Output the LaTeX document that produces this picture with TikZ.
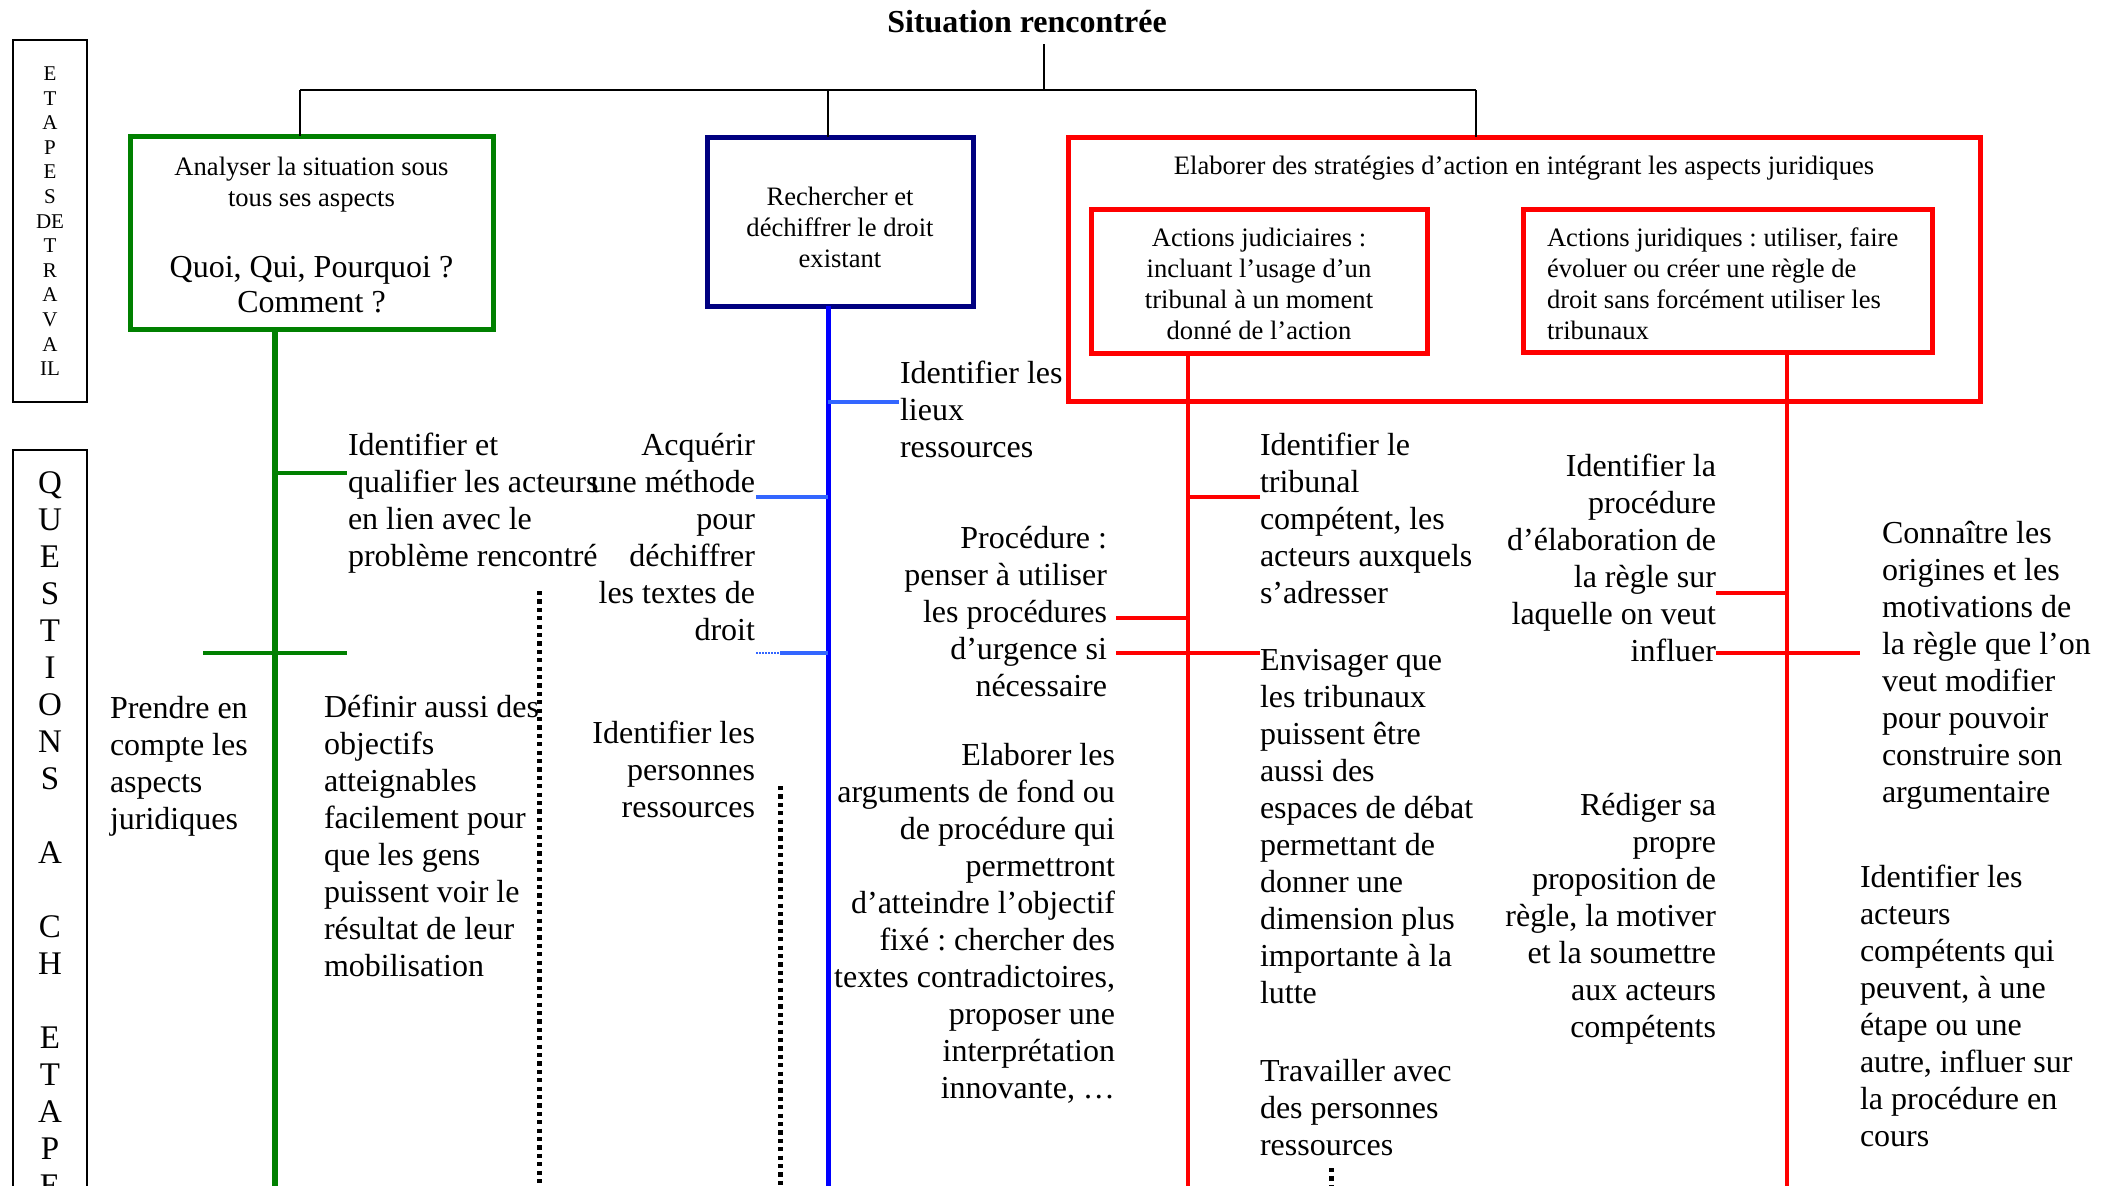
\documentclass[tikz,border=0pt]{standalone}
\usepackage{fontspec}
\setmainfont{Liberation Serif}
\frenchspacing
\definecolor{grn}{RGB}{0,128,0}
\definecolor{navy}{RGB}{0,0,128}
\definecolor{blu}{RGB}{0,0,255}
\definecolor{lblu}{RGB}{51,102,255}
\definecolor{rd}{RGB}{255,0,0}
\begin{document}
\begin{tikzpicture}[x=1pt,y=-1pt,
  every node/.style={inner sep=0pt, outer sep=0pt},
  body/.style={font=\fontsize{32}{37}\selectfont},
  boxtxt/.style={font=\fontsize{26.6}{31}\selectfont},
  lt/.style={body, align=left, anchor=north west},
  rt/.style={body, align=right, anchor=north east},
  conn/.style={draw=black, line width=2pt},
  gline/.style={draw=grn, line width=5.5pt},
  bline/.style={draw=blu, line width=5pt},
  lbline/.style={draw=lblu, line width=3.5pt},
  rline/.style={draw=rd, line width=4.8pt},
  dots/.style={draw=black, line width=5pt, dash pattern=on 4.2pt off 4.2pt},
]
\useasboundingbox (0,0) rectangle (2107,1186);
\clip (0,0) rectangle (2107,1186);

% left side boxes
\node[draw, line width=2pt, minimum width=74pt, minimum height=362pt] (etapes) at (50,221) {};
\node[font=\fontsize{21}{24.6}\selectfont, align=center, anchor=north] (etapestxt) at (50,63.3)
  {\strut E\\T\\A\\P\\E\\S\\DE\\T\\R\\A\\V\\A\\IL};
\node[draw, line width=2pt, minimum width=74pt, minimum height=760pt] (quest) at (50,830) {};
\node[font=\fontsize{33}{37}\selectfont, align=center, anchor=north] (questtxt) at (50,467.1)
  {\strut Q\\U\\E\\S\\T\\I\\O\\N\\S\\~\\A\\~\\C\\H\\~\\E\\T\\A\\P\\E};

% title
\node[font=\fontsize{32}{37}\selectfont\bfseries, anchor=base] (title) at (1027,32) {Situation rencontrée};

% main boxes
\node[draw=grn, line width=5pt, minimum width=363pt, minimum height=193pt] (gbox) at (311.5,232.5) {};
\node[boxtxt, align=center, anchor=north] (gtxt1) at (311.5,153.3) {\strut Analyser la situation sous\\tous ses aspects};
\node[font=\fontsize{32}{35}\selectfont, align=center, anchor=north] (gtxt2) at (311.5,252.5) {\strut Quoi, Qui, Pourquoi ?\\Comment ?};

\node[draw=navy, line width=5pt, minimum width=266pt, minimum height=169pt] (bbox) at (840,221.5) {};
\node[boxtxt, align=center, anchor=north] (btxt) at (840,183.3) {\strut Rechercher et\\déchiffrer le droit\\existant};

\node[draw=rd, line width=5pt, minimum width=912pt, minimum height=264pt] (rbox) at (1524,269) {};
\node[boxtxt, anchor=north] (rtxt) at (1524,152.3) {\strut Elaborer des stratégies d’action en intégrant les aspects juridiques};

\node[draw=rd, line width=5pt, minimum width=336pt, minimum height=144pt] (rj1) at (1259,281) {};
\node[boxtxt, align=center, anchor=north] (rj1txt) at (1259,224.3) {\strut Actions judiciaires :\\incluant l’usage d’un\\tribunal à un moment\\donné de l’action};

\node[draw=rd, line width=5pt, minimum width=409pt, minimum height=143pt] (rj2) at (1727.5,280.5) {};
\node[boxtxt, align=left, anchor=north west] (rj2txt) at (1547,224.3) {\strut Actions juridiques : utiliser, faire\\évoluer ou créer une règle de\\droit sans forcément utiliser les\\tribunaux};

% top connectors
\coordinate (ttop) at (1044,44);
\coordinate (tbar) at (1044,90);
\coordinate (barL) at (300,90);
\coordinate (barM) at (828,90);
\coordinate (barR) at (1476,90);
\draw[conn] (ttop) -- (tbar);
\draw[conn] (barL) -- (barR);
\draw[conn] (barL) -- (gbox.north -| barL);
\draw[conn] (barM) -- (bbox.north -| barM);
\draw[conn] (barR) -- (rbox.north -| barR);

% verticals
\coordinate (gx) at (275,1190);
\coordinate (bx) at (828,1190);
\coordinate (r1x) at (1188,1190);
\coordinate (r2x) at (1787,1190);
\draw[gline] (gbox.south -| gx) -- (gx);
\draw[bline] (bbox.south -| bx) -- (bx);
\draw[rline] (rj1.south -| r1x) -- (r1x);
\draw[rline] (rj2.south -| r2x) -- (r2x);

% lower texts
\node[lt] (tA) at (348,429.1) {\strut Identifier et\\qualifier les acteurs\\en lien avec le\\problème rencontré};
\node[rt] (tB) at (755,429.1) {\strut Acquérir\\une méthode\\pour\\déchiffrer\\les textes de\\droit};
\node[lt] (tC) at (900,357.1) {\strut Identifier les\\lieux\\ressources};
\node[rt] (tD) at (1107,522.1) {\strut Procédure :\\penser à utiliser\\les procédures\\d’urgence si\\nécessaire};
\node[rt] (tE) at (1115,739.1) {\strut Elaborer les\\arguments de fond ou\\de procédure qui\\permettront\\d’atteindre l’objectif\\fixé : chercher des\\textes contradictoires,\\proposer une\\interprétation\\innovante, …};
\node[lt] (tF) at (1260,429.1) {\strut Identifier le\\tribunal\\compétent, les\\acteurs auxquels\\s’adresser};
\node[lt] (tG) at (1260,644.1) {\strut Envisager que\\les tribunaux\\puissent être\\aussi des\\espaces de débat\\permettant de\\donner une\\dimension plus\\importante à la\\lutte};
\node[lt] (tH) at (1260,1055.1) {\strut Travailler avec\\des personnes\\ressources};
\node[rt] (tI) at (1716,450.1) {\strut Identifier la\\procédure\\d’élaboration de\\la règle sur\\laquelle on veut\\influer};
\node[rt] (tJ) at (1716,789.1) {\strut Rédiger sa\\propre\\proposition de\\règle, la motiver\\et la soumettre\\aux acteurs\\compétents};
\node[lt] (tK) at (1882,517.1) {\strut Connaître les\\origines et les\\motivations de\\la règle que l’on\\veut modifier\\pour pouvoir\\construire son\\argumentaire};
\node[lt] (tL) at (1860,861.1) {\strut Identifier les\\acteurs\\compétents qui\\peuvent, à une\\étape ou une\\autre, influer sur\\la procédure en\\cours};
\node[lt] (tM) at (110,692.1) {\strut Prendre en\\compte les\\aspects\\juridiques};
\node[lt] (tN) at (324,691.1) {\strut Définir aussi des\\objectifs\\atteignables\\facilement pour\\que les gens\\puissent voir le\\résultat de leur\\mobilisation};
\node[rt] (tO) at (755,717.1) {\strut Identifier les\\personnes\\ressources};

% branches green
\coordinate (g1a) at (275,473); \coordinate (g1b) at (347,473);
\coordinate (g2a) at (203,653); \coordinate (g2b) at (347,653);
\draw[gline, line width=4.5pt] (g1a) -- (g1b);
\draw[gline, line width=4.5pt] (g2a) -- (g2b);
% branches blue
\coordinate (b1a) at (828,402); \coordinate (b1b) at (899,402);
\coordinate (b2a) at (756,497); \coordinate (b2b) at (828,497);
\coordinate (b3a) at (756,653); \coordinate (b3m) at (780,653); \coordinate (b3b) at (828,653);
\draw[lbline] (b1a) -- (b1b);
\draw[lbline] (b2a) -- (b2b);
\draw[lbline] (b3m) -- (b3b);
\draw[draw=lblu, line width=1.5pt, dash pattern=on 1.5pt off 1.5pt] (b3a) -- (b3m);
% branches red
\coordinate (r1a) at (1188,497); \coordinate (r1b) at (1260,497);
\coordinate (r2a) at (1116,618); \coordinate (r2b) at (1188,618);
\coordinate (r3a) at (1116,653); \coordinate (r3b) at (1260,653);
\coordinate (r4a) at (1716,593); \coordinate (r4b) at (1787,593);
\coordinate (r5a) at (1716,653); \coordinate (r5b) at (1860,653);
\draw[rline] (r1a) -- (r1b);
\draw[rline] (r2a) -- (r2b);
\draw[rline] (r3a) -- (r3b);
\draw[rline] (r4a) -- (r4b);
\draw[rline] (r5a) -- (r5b);

% dotted lines
\coordinate (d1a) at (539,591); \coordinate (d1b) at (539,1190);
\coordinate (d2a) at (780,786); \coordinate (d2b) at (780,1190);
\coordinate (d3a) at (1331,1168); \coordinate (d3b) at (1331,1190);
\draw[dots] (d1a) -- (d1b);
\draw[dots] (d2a) -- (d2b);
\draw[dots] (d3a) -- (d3b);
\end{tikzpicture}
\end{document}
